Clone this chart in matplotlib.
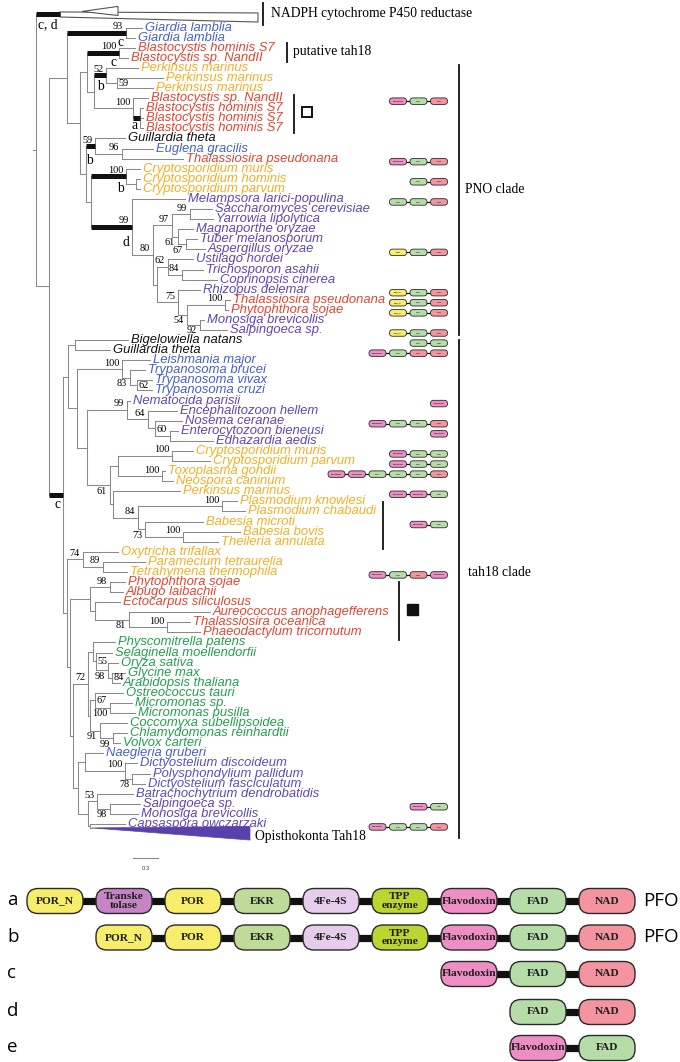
import matplotlib
matplotlib.use("Agg")
import matplotlib.pyplot as plt
from matplotlib.patches import FancyBboxPatch, Polygon, Rectangle
from matplotlib.transforms import blended_transform_factory

SERIF = "Liberation Serif"
SANS = "Liberation Sans"
BRANCH = "#8a8a8a"

# ---------------- tree: internal nodes (depth in substitutions/site) ----------------
node_names = ["root", "A", "B", "G", "C", "D", "Bl1", "D2", "P1", "P2", "Bl2", "Bl3",
              "F", "GE", "EU", "H", "CR", "CR2", "FU", "FU2", "FU3", "FU4", "FU5", "FU6",
              "FU7", "FU8", "FU9", "FU10", "FU11", "FU12", "FU13",
              "T", "T1", "BG", "T2", "KI", "KI2", "KI3", "X", "MS", "MS2", "MS3", "MS4",
              "Y", "AP1", "CR3", "TX", "AP2", "PL", "PLA", "BA", "BA2",
              "Z", "CI", "CI2", "Z2", "S1", "ST1", "S2", "S3", "S4",
              "W", "PLT", "LP", "LP2", "LP3", "LP4", "CH", "OS", "MI", "CO", "VC",
              "OT", "DI", "DI2", "DI3", "OP", "OP1", "SM", "OP2"]
node_parents = [None, "root", "A", "B", "B", "C", "D", "D", "D2", "P1", "D2", "Bl2",
                "C", "F", "GE", "F", "H", "CR", "H", "FU", "FU2", "FU3", "FU3", "FU5",
                "FU2", "FU7", "FU8", "FU7", "FU10", "FU11", "FU11",
                "A", "T", "T1", "T1", "T2", "KI", "KI2", "T2", "X", "MS", "MS2", "MS3",
                "X", "Y", "AP1", "AP1", "Y", "AP2", "PL", "PL", "BA",
                "T", "Z", "CI", "Z", "Z2", "S1", "S1", "S2", "S3",
                "Z2", "W", "PLT", "LP", "LP2", "LP3", "PLT", "CH", "OS", "CH", "CO",
                "W", "OT", "DI", "DI2", "OT", "OP", "OP1", "OP"]
node_depths = [0.0, 0.156, 0.372, 1.08, 0.528, 0.612, 0.996, 0.696, 0.84, 0.972, 1.164, 1.248,
               0.6, 0.708, 1.032, 0.66, 1.08, 1.2, 1.152, 1.404, 1.632, 1.848, 1.704, 1.8,
               1.452, 1.584, 1.752, 1.704, 1.812, 2.268, 1.968,
               0.324, 0.384, 0.468, 0.492, 1.032, 1.128, 1.212, 0.612, 1.092, 1.344, 1.428, 1.608,
               0.888, 0.984, 1.632, 1.512, 0.924, 1.224, 2.232, 1.308, 1.764,
               0.372, 0.564, 0.804, 0.408, 0.648, 0.888, 0.708, 1.116, 1.572,
               0.444, 0.624, 0.684, 0.72, 0.864, 0.912, 0.648, 0.708, 0.888, 0.768, 0.924,
               0.504, 0.588, 1.068, 1.152, 0.624, 0.732, 0.888, 0.648]

# ---------------- tree: leaves, top to bottom ----------------
leaf_names = ["Giardia lamblia", "Giardia lamblia", "Blastocystis hominis S7", "Blastocystis sp. NandII",
              "Perkinsus marinus", "Perkinsus marinus", "Perkinsus marinus", "Blastocystis sp. NandII",
              "Blastocystis hominis S7", "Blastocystis hominis S7", "Blastocystis hominis S7",
              "Guillardia theta", "Euglena gracilis", "Thalassiosira pseudonana",
              "Cryptosporidium muris", "Cryptosporidium hominis", "Cryptosporidium parvum",
              "Melampsora larici-populina", "Saccharomyces cerevisiae", "Yarrowia lipolytica",
              "Magnaporthe oryzae", "Tuber melanosporum", "Aspergillus oryzae", "Ustilago hordei",
              "Trichosporon asahii", "Coprinopsis cinerea", "Rhizopus delemar",
              "Thalassiosira pseudonana", "Phytophthora sojae", "Monosiga brevicollis", "Salpingoeca sp.",
              "Bigelowiella natans", "Guillardia theta", "Leishmania major", "Trypanosoma brucei",
              "Trypanosoma vivax", "Trypanosoma cruzi", "Nematocida parisii", "Encephalitozoon hellem",
              "Nosema ceranae", "Enterocytozoon bieneusi", "Edhazardia aedis",
              "Cryptosporidium muris", "Cryptosporidium parvum", "Toxoplasma gondii", "Neospora caninum",
              "Perkinsus marinus", "Plasmodium knowlesi", "Plasmodium chabaudi", "Babesia microti",
              "Babesia bovis", "Theileria annulata", "Oxytricha trifallax", "Paramecium tetraurelia",
              "Tetrahymena thermophila", "Phytophthora sojae", "Albugo laibachii", "Ectocarpus siliculosus",
              "Aureococcus anophagefferens", "Thalassiosira oceanica", "Phaeodactylum tricornutum",
              "Physcomitrella patens", "Selaginella moellendorfii", "Oryza sativa", "Glycine max",
              "Arabidopsis thaliana", "Ostreococcus tauri", "Micromonas sp.", "Micromonas pusilla",
              "Coccomyxa subellipsoidea", "Chlamydomonas reinhardtii", "Volvox carteri",
              "Naegleria gruberi", "Dictyostelium discoideum", "Polysphondylium pallidum",
              "Dictyostelium fasciculatum", "Batrachochytrium dendrobatidis", "Salpingoeca sp.",
              "Monosiga brevicollis", "Capsaspora owczarzaki"]
leaf_parents = ["G", "G", "Bl1", "Bl1", "P1", "P2", "P2", "Bl2", "Bl3", "Bl3", "Bl3",
                "GE", "EU", "EU", "CR", "CR2", "CR2",
                "FU", "FU4", "FU4", "FU5", "FU6", "FU6", "FU8", "FU9", "FU9", "FU10",
                "FU12", "FU12", "FU13", "FU13",
                "BG", "BG", "KI", "KI2", "KI3", "KI3", "MS", "MS2", "MS3", "MS4", "MS4",
                "CR3", "CR3", "TX", "TX", "AP2", "PLA", "PLA", "BA", "BA2", "BA2",
                "CI", "CI2", "CI2", "ST1", "ST1", "S2", "S3", "S4", "S4",
                "LP", "LP2", "LP3", "LP4", "LP4", "OS", "MI", "MI", "CO", "VC", "VC",
                "DI", "DI2", "DI3", "DI3", "OP1", "SM", "SM", "OP2"]
leaf_depths = [1.272, 1.188, 1.188, 1.104, 1.224, 1.524, 1.404, 1.344, 1.284, 1.284, 1.284,
               1.068, 1.404, 1.764, 1.248, 1.248, 1.248,
               1.788, 2.112, 2.124, 1.884, 1.932, 2.028, 1.884, 2.004, 2.172, 1.968,
               2.328, 2.304, 2.016, 2.292,
               1.104, 0.888, 1.368, 1.308, 1.392, 1.392, 1.128, 1.692, 1.752, 1.704, 2.124,
               1.884, 2.088, 1.548, 1.644, 1.728, 2.412, 2.508, 2.004, 2.448, 2.184,
               0.984, 1.308, 1.092, 1.068, 1.044, 1.008, 2.088, 1.848, 1.968,
               0.948, 0.912, 0.984, 1.068, 1.008, 1.044, 1.152, 1.188, 1.092, 1.092, 1.008,
               0.804, 1.212, 1.368, 1.308, 1.164, 1.248, 1.224, 1.068]
leaf_groups = (["blue"] * 2 + ["red"] * 2 + ["orange"] * 3 + ["red"] * 4 + ["black", "blue", "red"]
               + ["orange"] * 3 + ["purple"] * 10 + ["red"] * 2 + ["purple"] * 2 + ["black"] * 2
               + ["blue"] * 4 + ["purple"] * 5 + ["orange"] * 13 + ["red"] * 6 + ["green"] * 11
               + ["blue"] + ["blue2"] * 3 + ["purple"] * 4)

group_colors = {"blue": "#4660C4", "blue2": "#5552C0", "purple": "#5E47B2", "red": "#E2442F",
                "orange": "#F5AE22", "green": "#22A04B", "black": "#111111"}

# collapsed clades
clade_names = ["NADPH cytochrome P450 reductase", "Opisthokonta Tah18"]
clade_parents = ["root", "OP2"]
clade_rows = [-0.35, 80.4]
clade_apex = [0.288, 0.672]
clade_tips = [2.664, 2.568]

# bootstrap support
support_nodes = ["G", "Bl1", "P1", "P2", "Bl2", "GE", "EU", "CR", "FU", "FU2", "FU3", "FU4", "FU5",
                 "FU6", "FU8", "FU9", "FU10", "FU12", "FU11", "FU13",
                 "KI", "KI2", "KI3", "MS", "MS2", "MS4", "CR3", "TX", "Y", "PLA", "PL", "BA", "BA2",
                 "CI", "CI2", "ST1", "S4", "S3", "PLT", "LP2", "LP3", "LP4", "OS", "MI", "CO", "VC",
                 "DI2", "DI3", "OP1", "SM"]
support_values = ["93", "100", "52", "59", "100", "59", "96", "100", "99", "80", "97", "99", "61",
                  "67", "62", "84", "75", "100", "54", "92",
                  "100", "83", "62", "99", "64", "60", "100", "100", "61", "100", "84", "73", "100",
                  "74", "89", "98", "100", "81", "72", "55", "98", "84", "67", "100", "91", "99",
                  "100", "78", "53", "98"]
support_side = ["a", "a", "a", "r", "a", "a", "a", "a", "a", "a", "a", "a", "b",
                "b", "a", "a", "a", "a", "b", "b",
                "a", "b", "r", "a", "a", "a", "a", "a", "b", "a", "a", "b", "a",
                "a", "a", "a", "a", "b", "a", "r", "b", "r", "r", "b", "b", "b",
                "a", "b", "a", "b"]

# branches marked with the domain architecture letter
bar_nodes = ["G", "Bl1", "P1", "Bl3", "GE", "CR", "FU", "T"]
bar_letters = ["c", "c", "b", "a", "b", "b", "d", "c"]
bar_letter_dy = [0.3, 0.3, 0.5, 0.05, 0.8, 0.6, 0.9, 0.3]

# small domain icons next to tips (row = leaf row)
icon_rows = [8, 14, 16, 18, 23, 27, 28, 29, 31, 32, 33, 38, 40, 41, 43, 44, 45, 47, 50, 55, 78, 80]
icon_domains = [["Flavodoxin", "FAD", "NAD"], ["Flavodoxin", "FAD", "NAD"], ["FAD", "NAD"],
                ["FAD", "FAD", "NAD"], ["POR", "FAD", "NAD"], ["POR_N", "FAD", "NAD"],
                ["POR_N", "FAD", "NAD"], ["POR_N", "FAD", "NAD"], ["POR_N", "FAD", "NAD"],
                ["FAD", "FAD"], ["Flavodoxin", "FAD", "NAD", "NAD"], ["Flavodoxin"],
                ["Flavodoxin", "FAD", "FAD", "NAD"], ["Flavodoxin"], ["Flavodoxin", "FAD", "FAD"],
                ["Flavodoxin", "FAD", "FAD"],
                ["Flavodoxin", "Flavodoxin", "FAD", "FAD", "FAD", "NAD"],
                ["Flavodoxin", "Flavodoxin", "FAD"], ["Flavodoxin", "FAD"],
                ["Flavodoxin", "FAD", "NAD", "Flavodoxin"], ["Flavodoxin", "FAD"],
                ["Flavodoxin", "FAD", "FAD", "NAD"]]

# domain architectures a-e
domain_rows = ["a", "b", "c", "d", "e"]
domain_sets = [["POR_N", "Transke\ntolase", "POR", "EKR", "4Fe-4S", "TPP\nenzyme", "Flavodoxin", "FAD", "NAD"],
               ["POR_N", "POR", "EKR", "4Fe-4S", "TPP\nenzyme", "Flavodoxin", "FAD", "NAD"],
               ["Flavodoxin", "FAD", "NAD"],
               ["FAD", "NAD"],
               ["Flavodoxin", "FAD"]]
domain_start = [0, 1, 6, 7, 7]
domain_tags = ["PFO", "PFO", "", "", ""]

domain_colors = {"POR_N": "#F6EE6B", "POR": "#F6EE6B", "Transke\ntolase": "#C584C4",
                 "EKR": "#BFDB98", "4Fe-4S": "#E5CDEB", "TPP\nenzyme": "#BCD531",
                 "Flavodoxin": "#EE8EC4", "FAD": "#B6DDA8", "NAD": "#F3949F"}

# ---------------- layout ----------------
fig = plt.figure(figsize=(6.8, 10.62), dpi=100)
ax = fig.add_axes([0, 0, 1, 1])
axp = fig.add_axes([0, 0, 1, 1])
for a in (ax, axp):
    a.set_axis_off()
    a.patch.set_alpha(0)
ax.set_xlim(-0.432, 7.728)
ax.set_ylim(103.62, -1.736)
axp.set_xlim(0, 680)
axp.set_ylim(1062, 0)
blend = blended_transform_factory(axp.transData, ax.transData)


def row_px(r):
    return axp.transData.inverted().transform(ax.transData.transform((0, r)))[1]


depth = dict(zip(node_names, node_depths))
parent = dict(zip(node_names, node_parents))
kids = {n: [] for n in node_names}
for n, p in zip(node_names, node_parents):
    if p is not None:
        kids[p].append(n)
leaf_rows = list(range(1, len(leaf_names) + 1))
child_rows = {n: [] for n in node_names}
for r, p in zip(leaf_rows, leaf_parents):
    child_rows[p].append(r)
for r, p in zip(clade_rows, clade_parents):
    child_rows[p].append(r)
node_row = {}


def place(n):
    rows = child_rows[n] + [place(k) for k in kids[n]]
    node_row[n] = (min(rows) + max(rows)) / 2
    return node_row[n]


place("root")

lw = 0.75
for n in node_names:
    rows = child_rows[n] + [node_row[k] for k in kids[n]]
    ax.plot([depth[n]] * 2, [min(rows), max(rows)], color=BRANCH, lw=lw)
    if parent[n] is not None:
        ax.plot([depth[parent[n]], depth[n]], [node_row[n]] * 2, color=BRANCH, lw=lw)
ax.plot([-0.04, 0], [node_row["root"]] * 2, color=BRANCH, lw=lw)

for name, r, p, d, g in zip(leaf_names, leaf_rows, leaf_parents, leaf_depths, leaf_groups):
    ax.plot([depth[p], d], [r, r], color=BRANCH, lw=lw)
    ax.text(d + 0.035, r, name, family=SANS, style="italic", fontsize=9.4,
            color=group_colors[g], va="center", ha="left")

# collapsed clades
for name, p, r, x0, x1 in zip(clade_names, clade_parents, clade_rows, clade_apex, clade_tips):
    ax.plot([depth[p], x0], [r, r], color=BRANCH, lw=lw)
    if p == "root":
        ax.add_patch(Polygon([(x0, r - 0.2), (x1, r - 0.1), (x1, r + 0.8), (x0, r + 0.3)],
                             closed=True, fc="white", ec="#555555", lw=0.8))
        ax.add_patch(Polygon([(x0 + 0.264, r - 0.25), (x0 + 0.696, r - 0.75), (x0 + 0.696, r + 0.15)],
                             closed=True, fc="white", ec="#555555", lw=0.8))
    else:
        ax.add_patch(Polygon([(x0, r), (x1, r - 0.15), (x1, r + 1.2)],
                             closed=True, fc="#5A40AA", ec="#5A40AA", lw=0.5))
        ax.text(x1 + 0.06, r + 0.8, name, family=SERIF, fontsize=9.8, va="center", ha="left")

# marked branches
for n, letter, dy in zip(bar_nodes, bar_letters, bar_letter_dy):
    x0, x1, y = depth[parent[n]], depth[n], node_row[n]
    ax.plot([x0, x1], [y, y], color="#111111", lw=3.6, solid_capstyle="butt")
    ax.text(x1 - 0.03, y + dy, letter, family=SERIF, fontsize=9.8, ha="right", va="top")
ax.plot([depth["root"], clade_apex[0]], [clade_rows[0]] * 2, color="#111111", lw=3.6,
        solid_capstyle="butt")
ax.text(0.02, clade_rows[0] + 0.4, "c, d", family=SERIF, fontsize=9.8, ha="left", va="top")

# support values
for n, v, s in zip(support_nodes, support_values, support_side):
    x, y = depth[n], node_row[n]
    if s == "a":
        ax.text(x - 0.035, y - 0.15, v, family=SERIF, fontsize=7.4, ha="right", va="bottom")
    elif s == "b":
        ax.text(x - 0.035, y + 0.15, v, family=SERIF, fontsize=7.4, ha="right", va="top")
    else:
        ax.text(x + 0.015, y, v, family=SERIF, fontsize=7.4, ha="left", va="center")

# scale bar
ax.plot([1.164, 1.464], [83.4, 83.4], color=BRANCH, lw=0.8)
ax.text(1.314, 84.2, "0.3", family=SANS, fontsize=4.2, ha="center", va="top", color="#444444")

# clade brackets and captions (x in pixels, y in leaf rows)
bracket_x = [263, 286.5, 294, 458.5, 458.5, 382.5, 398.5]
bracket_top = [-1.44, 2.53, 7.69, 4.71, 32.0, 48.07, 56.0]
bracket_bot = [0.74, 4.41, 11.46, 31.5, 81.4, 52.73, 61.75]
for x, r0, r1 in zip(bracket_x, bracket_top, bracket_bot):
    ax.plot([x, x], [r0, r1], color="#111111", lw=1.3, transform=blend)
caption_text = ["NADPH cytochrome P450 reductase", "putative tah18", "PNO clade", "tah18 clade"]
caption_x = [271, 293, 465, 468]
caption_row = [-0.35, 3.42, 17.1, 55.1]
for t, x, r in zip(caption_text, caption_x, caption_row):
    ax.text(x, r, t, family=SERIF, fontsize=9.8, va="center", ha="left", transform=blend)

sq = row_px(9.37)
axp.add_patch(Rectangle((302, sq - 5), 10, 10, fc="white", ec="#111111", lw=1.4))
sq = row_px(58.7)
axp.add_patch(Rectangle((407, sq - 5), 10.5, 10.5, fc="#111111", ec="#111111", lw=1))


def pill(cx, cy, w, h, name, fs, edge_lw, rounding):
    axp.add_patch(FancyBboxPatch((cx - w / 2, cy - h / 2), w, h,
                                 boxstyle=f"round,pad=0,rounding_size={rounding}",
                                 fc=domain_colors[name], ec="#2a2a2a", lw=edge_lw, zorder=3))
    axp.text(cx, cy, name, family=SERIF, weight="bold", fontsize=fs, ha="center", va="center",
             color="#1e1e1e", zorder=4, linespacing=0.95)


# icons beside tips
for r, doms in zip(icon_rows, icon_domains):
    cy = row_px(r + 0.3)
    xs = [439 - 20.5 * (len(doms) - 1 - j) for j in range(len(doms))]
    if len(xs) > 1:
        axp.plot([xs[0], xs[-1]], [cy, cy], color="#111111", lw=0.9, zorder=2)
    for cx, d in zip(xs, doms):
        pill(cx, cy, 17, 6.5, d, 1.6, 0.6, 3.2)

# domain architectures
row_y = [901, 937.5, 974, 1012, 1048]
for lab, doms, st, tag, cy in zip(domain_rows, domain_sets, domain_start, domain_tags, row_y):
    xs = [55 + 69.0 * (st + j) for j in range(len(doms))]
    axp.plot([xs[0], xs[-1]], [cy, cy], color="#111111", lw=5.2, zorder=2, solid_capstyle="butt")
    for cx, d in zip(xs, doms):
        pill(cx, cy, 56, 25, d, 8.2, 1.0, 11)
    axp.text(7, cy - 1, lab, family="Open Sans", fontsize=13.5, ha="left", va="center")
    if tag:
        axp.text(643, cy, tag, family="Open Sans", fontsize=13.5, ha="left", va="center")

fig.savefig("out.png", dpi=100)
